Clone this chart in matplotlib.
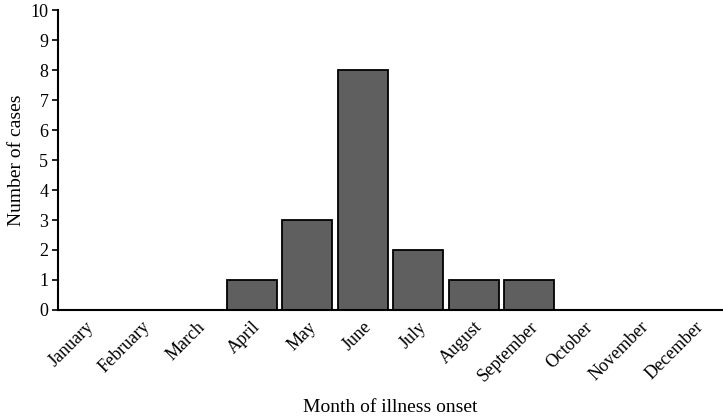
import numpy as np
import matplotlib.pyplot as plt

# Monthly case counts
months = ["January", "February", "March", "April", "May", "June",
          "July", "August", "September", "October", "November", "December"]
cases = [0, 0, 0, 1, 3, 8, 2, 1, 1, 0, 0, 0]

plt.rcParams['font.family'] = ['Liberation Serif', 'DejaVu Serif']

fig = plt.figure(figsize=(7.23, 4.18), dpi=100)
ax = fig.add_axes([0.0802, 0.2584, 0.9198, 0.7176])

x = np.arange(len(months))
ax.bar(x, cases, width=0.9, color='#5f5f5f', edgecolor='black', linewidth=1.3)

ax.set_xlim(-0.5, 11.5)
ax.set_ylim(0, 10)
ax.set_yticks(range(0, 11))
ax.set_xticks(x)
ax.set_xticklabels(months, rotation=45, ha='right', rotation_mode='anchor')
ax.tick_params(axis='x', length=0, labelsize=13, pad=6)
ax.tick_params(axis='y', length=4, width=1.2, labelsize=13, pad=3)

for side in ['top', 'right']:
    ax.spines[side].set_visible(False)
for side in ['left', 'bottom']:
    ax.spines[side].set_linewidth(1.5)

ax.set_ylabel('Number of cases', fontsize=14, labelpad=4)
fig.text(0.54, 0.015, 'Month of illness onset', ha='center', fontsize=14)

fig.savefig('out.png', dpi=100)
